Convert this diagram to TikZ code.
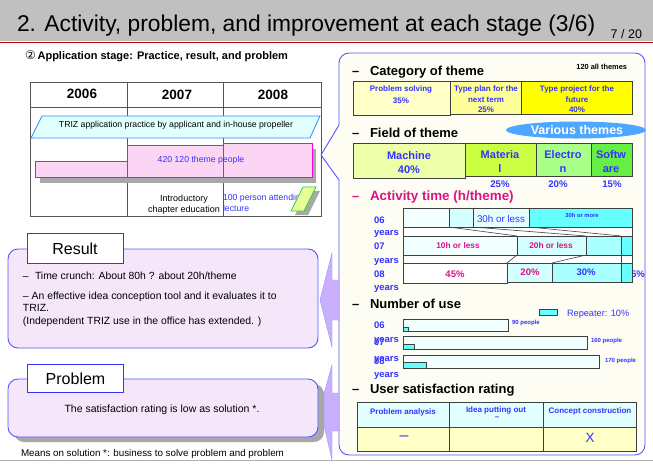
\documentclass[tikz,border=0pt]{standalone}
\usepackage{fontspec}
\setmainfont{Liberation Sans}
\newfontfamily\djv{DejaVu Sans}
\usetikzlibrary{shapes.geometric}
\newcommand{\fsz}[1]{\fontsize{#1}{#1}\selectfont}
\definecolor{tblue}{HTML}{3333FF}
\definecolor{pborder}{HTML}{5555FF}
\definecolor{mag}{HTML}{DD1188}
\definecolor{cellline}{HTML}{404040}
\definecolor{titlegray}{HTML}{C0C0C0}
\definecolor{panelbg}{HTML}{FDFDF4}
\definecolor{boxbg}{HTML}{F6E6FA}
\definecolor{arrowfill}{HTML}{C8B0FF}
\definecolor{pinkfill}{HTML}{FCD4F4}
\definecolor{magborder}{HTML}{FF00DD}
\definecolor{cyfill}{HTML}{E0FFFF}
\definecolor{cyborder}{HTML}{3388FF}
\definecolor{greenfill}{HTML}{E8FF99}
\definecolor{greenborder}{HTML}{33CC33}
\definecolor{cy0}{HTML}{F2FFFF}
\definecolor{cy1}{HTML}{D4FFFF}
\definecolor{cy2}{HTML}{AAFFFF}
\definecolor{cy3}{HTML}{66FFFF}
\definecolor{ye1}{HTML}{FFFFC8}
\definecolor{ye2}{HTML}{FFFF9A}
\definecolor{ye3}{HTML}{FFFF00}
\definecolor{gr1}{HTML}{EEFFAA}
\definecolor{gr2}{HTML}{CCFF44}
\definecolor{gr3}{HTML}{AAFF88}
\definecolor{gr4}{HTML}{66EE44}
\definecolor{cloudblue}{HTML}{4DA6FF}
\definecolor{shadowgray}{HTML}{A8A8A8}
\definecolor{tablegray}{HTML}{555555}
\begin{document}
\begin{tikzpicture}[x=1pt,y=-1pt,
  every node/.style={inner sep=0pt, outer sep=0pt},
  cellbox/.style={draw=cellline, line width=0.7},
  heading/.style={anchor=base west, font=\bfseries\fsz{13}},
  btxt/.style={text=tblue},
  labelbox/.style={draw=tblue, fill=white, line width=0.8, minimum width=96, minimum height=30, font=\fsz{16}},
  roundbox/.style={draw=pborder, fill=boxbg, line width=0.9, rounded corners=10},
  bigarrow/.style={fill=arrowfill, draw=arrowfill!80!blue, line width=0.4},
  yrlabel/.style={anchor=base west, text=tblue, font=\bfseries\fsz{9.5}},
  peoplelbl/.style={anchor=base west, text=tblue, font=\bfseries\fsz{6}},
  cattxt/.style={anchor=base, text=tblue, font=\bfseries\fsz{8}},
  restext/.style={anchor=base west, font=\fsz{10.4}}
]
\useasboundingbox (0,0) rectangle (653,464);
\fill[white] (0,0) rectangle (653,464);

% ---------- title bar
\fill[titlegray] (0,0) rectangle (653,41);
\draw[red!75!black, line width=1.6] (0,42.5) -- (653,42.5);
\node[anchor=base west, font=\fsz{22.8}] (title) at (17,31) {2. Activity, problem, and improvement at each stage (3/6)};
\node[anchor=base east, font=\fsz{12.5}] (page) at (642,38) {7 / 20};
\draw[gray!60, line width=0.8] (0,460) -- (653,460);

% ---------- subtitle
\node[anchor=base west, font=\bfseries\fsz{11}] (sub) at (25,59) {{\djv\mdseries\fsz{12}②}\,Application stage: Practice, result, and problem};

% ---------- timeline table
\draw[tablegray, line width=0.8] (30,82) rectangle (321,216);
\draw[tablegray, line width=0.8] (30,107) -- (321,107);
\draw[tablegray, line width=0.8] (127,82) -- (127,216);
\draw[tablegray, line width=0.8] (223,82) -- (223,216);
\node[anchor=base, font=\bfseries\fsz{13.5}] (y06) at (82,98) {2006};
\node[anchor=base, font=\bfseries\fsz{13.5}] (y07) at (177,99) {2007};
\node[anchor=base, font=\bfseries\fsz{13.5}] (y08) at (273,99) {2008};

\draw[draw=cyborder, fill=cyfill, line width=0.8] (31,138) -- (42,116) -- (320,116) -- (310,138) -- cycle;
\node[anchor=base, font=\fsz{8.7}] (triz) at (176,127.5) {TRIZ application practice by applicant and in-house propeller};

% pink bars with shadow
\fill[shadowgray] (40,167) rectangle (131,183);
\fill[shadowgray] (131,151) rectangle (227,183);
\fill[shadowgray] (227,149) rectangle (316,183);
\draw[draw=magborder, fill=pinkfill, line width=0.8] (35,161) rectangle (127,177);
\draw[draw=magborder, fill=pinkfill, line width=0.8] (127,145) rectangle (223,177);
\draw[draw=magborder, fill=pinkfill, line width=0.8] (223,143) rectangle (312,177);
\node[anchor=base, btxt, font=\fsz{8.7}] (people) at (201,162) {420 120 theme people};

\node[anchor=base, font=\fsz{9}] (intro1) at (184,201) {Introductory};
\node[anchor=base, font=\fsz{9}] (intro2) at (184,212) {chapter education};
\node[anchor=base west, btxt, font=\fsz{8.7}] (lect1) at (223,200) {100 person attending};
\node[anchor=base west, btxt, font=\fsz{8.7}] (lect2) at (223,211) {lecture};
\fill[shadowgray] (295,215) -- (307,191) -- (320,191) -- (308,215) -- cycle;
\draw[draw=greenborder, fill=greenfill, line width=0.8] (291,211) -- (303,187) -- (316,187) -- (304,211) -- cycle;

% ---------- right panel
\draw[draw=pborder, fill=panelbg, line width=0.9] (321,155) -- (339,125) [rounded corners=10] -- (339,53) -- (645,53) -- (645,455) -- (339,455) [sharp corners] -- (339,180) -- cycle;

% big arrows
\draw[bigarrow] (320,300) -- (332,253) -- (332,280) -- (339,280) -- (339,320) -- (332,320) -- (332,347) -- cycle;
\draw[bigarrow] (320,408) -- (332,365) -- (332,393) -- (339,393) -- (339,431) -- (332,431) -- (332,460) -- cycle;

% ---------- result box
\draw[roundbox] (8,249) rectangle (318,348);
\node[labelbox] (reslbl) at (75,248) {};
\node[anchor=base, font=\fsz{16}] (restxt) at (75,254) {Result};
\node[restext] (r1) at (23,279) {–\hspace{0.6em}Time crunch: About 80h ? about 20h/theme};
\node[restext] (r2) at (23,299) {– An effective idea conception tool and it evaluates it to};
\node[restext] (r3) at (23,311) {TRIZ.};
\node[restext] (r4) at (23,324) {(Independent TRIZ use in the office has extended. )};

% ---------- problem box
\fill[shadowgray, rounded corners=10] (14,384) rectangle (324,442);
\draw[roundbox] (8,379) rectangle (318,437);
\node[labelbox, minimum height=28] (problbl) at (75.5,378) {};
\node[anchor=base, font=\fsz{16}] (probtxt) at (75.5,384) {Problem};
\node[anchor=base, font=\fsz{10.5}] (p1) at (162,412) {The satisfaction rating is low as solution *.};
\node[anchor=base west, font=\fsz{9.8}] (foot) at (21,456) {Means on solution *: business to solve problem and problem};

% ---------- category of theme
\node[heading] (dcat) at (352,75) {–};
\node[heading] (hcat) at (370,75) {Category of theme};
\node[anchor=base east, font=\bfseries\fsz{7.4}] (allth) at (627,69) {120 all themes};
\draw[cellbox, fill=ye1] (353,81) rectangle (450,115);
\draw[cellbox, fill=ye2] (450,81) rectangle (521,114);
\draw[cellbox, fill=ye3] (521,81) rectangle (632,114);
\node[cattxt] (c1a) at (401,91) {Problem solving};
\node[cattxt] (c1b) at (401,103) {35\%};
\node[cattxt] (c2a) at (486,91) {Type plan for the};
\node[cattxt] (c2b) at (486,102) {next term};
\node[cattxt] (c2c) at (486,112) {25\%};
\node[cattxt] (c3a) at (577,91) {Type project for the};
\node[cattxt] (c3b) at (577,102) {future};
\node[cattxt] (c3c) at (577,112) {40\%};

% ---------- field of theme
\node[heading] (dfld) at (352,137) {–};
\node[heading] (hfld) at (370,137) {Field of theme};
\node[ellipse, fill=cloudblue, minimum width=140, minimum height=17] (cloud) at (576,130) {};
\node[anchor=base, text=white, font=\bfseries\fsz{12.5}] (various) at (577,134) {Various themes};
\draw[cellbox, fill=gr1] (353,143) rectangle (465,178);
\draw[cellbox, fill=gr2] (465,143) rectangle (536,176);
\draw[cellbox, fill=gr3] (536,143) rectangle (591,176);
\draw[cellbox, fill=gr4] (591,143) rectangle (632,176);
\node[anchor=base, btxt, font=\bfseries\fsz{11}] (f1a) at (409,159) {Machine};
\node[anchor=base, btxt, font=\bfseries\fsz{11}] (f1b) at (409,173) {40\%};
\node[anchor=base, btxt, font=\bfseries\fsz{11}] (f2a) at (500,158) {Materia};
\node[anchor=base, btxt, font=\bfseries\fsz{11}] (f2b) at (500,172) {l};
\node[anchor=base, btxt, font=\bfseries\fsz{11}] (f3a) at (563,158) {Electro};
\node[anchor=base, btxt, font=\bfseries\fsz{11}] (f3b) at (563,172) {n};
\node[anchor=base, btxt, font=\bfseries\fsz{11}] (f4a) at (611,158) {Softw};
\node[anchor=base, btxt, font=\bfseries\fsz{11}] (f4b) at (611,172) {are};
\node[anchor=base, btxt, font=\bfseries\fsz{9.6}] (f2p) at (500,187) {25\%};
\node[anchor=base, btxt, font=\bfseries\fsz{9.6}] (f3p) at (558,187) {20\%};
\node[anchor=base, btxt, font=\bfseries\fsz{9.6}] (f4p) at (612,187) {15\%};

% ---------- activity time
\node[heading, text=mag] (dact) at (352,200) {–};
\node[heading, text=mag, font=\bfseries\fsz{13.4}] (hact) at (370,200) {Activity time (h/theme)};
\node[yrlabel] (a06) at (374,223) {06};
\node[yrlabel] (a06y) at (374,235) {years};
\node[yrlabel] (a07) at (374,249) {07};
\node[yrlabel] (a07y) at (374,263) {years};
\node[yrlabel] (a08) at (374,277) {08};
\node[yrlabel] (a08y) at (374,290) {years};
\node[anchor=base west, btxt, font=\bfseries\fsz{9.5}] (a5p) at (631,277) {5\%};
\draw[cellbox, fill=white] (403,227) rectangle (632,236);
\draw[cellbox, fill=white] (403,255) rectangle (632,263);
\draw[cellline, line width=0.6] (449,227) -- (517,236);
\draw[cellline, line width=0.6] (473,227) -- (586,236);
\draw[cellline, line width=0.6] (529,227) -- (621,236);
\draw[cellline, line width=0.6] (517,255) -- (507,263);
\draw[cellline, line width=0.6] (586,255) -- (552,263);
\draw[cellline, line width=0.6] (621,255) -- (621,263);
% row 06
\draw[cellbox, fill=cy0] (403,208) rectangle (449,227);
\draw[cellbox, fill=cy1] (449,208) rectangle (473,227);
\draw[cellbox, fill=cy1!60!white] (473,208) rectangle (529,227);
\draw[cellbox, fill=cy3] (529,208) rectangle (632,227);
\node[anchor=base, btxt, font=\fsz{9.8}] (t06a) at (501,222) {30h or less};
\node[anchor=base, btxt, font=\bfseries\fsz{5.8}] (t06b) at (582,217) {30h or more};
% row 07
\draw[cellbox, fill=cy0] (403,236) rectangle (517,255);
\draw[cellbox, fill=cy1] (517,236) rectangle (586,255);
\draw[cellbox, fill=cy2] (586,236) rectangle (621,255);
\draw[cellbox, fill=cy3] (621,236) rectangle (632,255);
\node[anchor=base, text=mag, font=\bfseries\fsz{8.3}] (t07a) at (458,248) {10h or less};
\node[anchor=base, text=mag, font=\bfseries\fsz{8.3}] (t07b) at (551,248) {20h or less};
% row 08
\draw[cellbox, fill=white] (403,263) rectangle (507,283);
\draw[cellbox, fill=cy1] (507,263) rectangle (552,282);
\draw[cellbox, fill=cy2] (552,263) rectangle (621,282);
\draw[cellbox, fill=cy3] (621,263) rectangle (632,282);
\node[anchor=base, text=mag, font=\bfseries\fsz{9.5}] (t08a) at (455,277) {45\%};
\node[anchor=base, text=mag, font=\bfseries\fsz{9.5}] (t08b) at (530,275) {20\%};
\node[anchor=base, btxt, font=\bfseries\fsz{9.5}] (t08c) at (586,275) {30\%};

% ---------- number of use
\node[heading] (dnum) at (352,308) {–};
\node[heading] (hnum) at (370,308) {Number of use};
\draw[cellbox, fill=cy3] (539,309) rectangle (557,315);
\node[anchor=base west, btxt, font=\fsz{9.2}] (rep) at (567,316) {Repeater: 10\%};
\node[yrlabel] (n06) at (374,328) {06};
\node[yrlabel] (n06y) at (374,342) {years};
\node[yrlabel] (n07) at (374,345) {07};
\node[yrlabel] (n07y) at (374,361) {years};
\node[yrlabel] (n08) at (374,364) {08};
\node[yrlabel] (n08y) at (374,377) {years};
\draw[cellbox, fill=cy0] (403,319) rectangle (508,331);
\draw[cellbox, fill=cy3] (403,327) rectangle (408,331);
\draw[cellbox, fill=cy0] (403,336) rectangle (587,349);
\draw[cellbox, fill=cy3] (403,344) rectangle (414,349);
\draw[cellbox, fill=cy0] (403,355) rectangle (599,368);
\draw[cellbox, fill=cy3] (403,362) rectangle (426,368);
\node[peoplelbl] (p90) at (512,324) {90 people};
\node[peoplelbl] (p160) at (591,342) {160 people};
\node[peoplelbl] (p170) at (605,362) {170 people};

% ---------- user satisfaction
\node[heading] (dsat) at (352,393) {–};
\node[heading] (hsat) at (370,393) {User satisfaction rating};
\fill[cy1!70!white] (357,402) rectangle (636,427);
\fill[ye1] (357,427) rectangle (636,451);
\draw[cellline, line width=0.8] (357,402) rectangle (636,451);
\draw[cellline, line width=0.8] (357,427) -- (636,427);
\draw[cellline, line width=0.8] (449,402) -- (449,451);
\draw[cellline, line width=0.8] (543,402) -- (543,451);
\node[anchor=base, btxt, font=\bfseries\fsz{8}] (s1) at (403,414) {Problem analysis};
\node[anchor=base, btxt, font=\bfseries\fsz{8}] (s2) at (496,412) {Idea putting out};
\node[btxt, font=\bfseries\fsz{8}] (s2d) at (497,418) {–};
\node[anchor=base, btxt, font=\bfseries\fsz{8}] (s3) at (590,413) {Concept construction};
\node[btxt, font=\fsz{16}] (s4) at (404,438) {–};
\node[btxt, font=\fsz{13.5}] (s5) at (590,438) {X};
\end{tikzpicture}
\end{document}
